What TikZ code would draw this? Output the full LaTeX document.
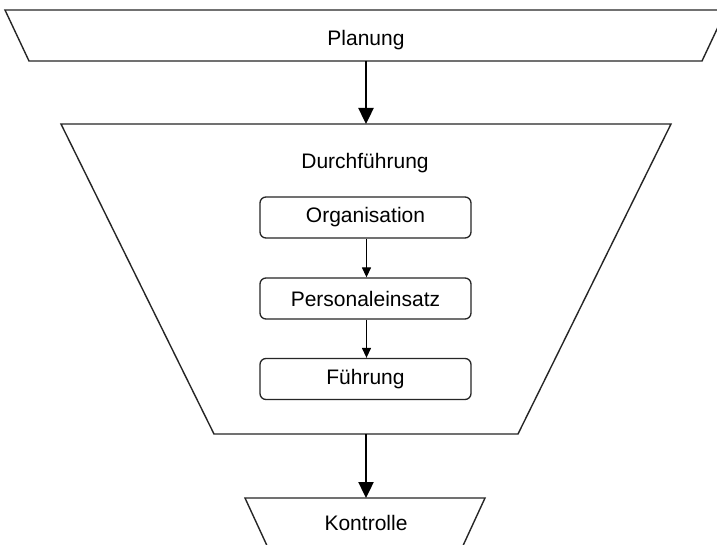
\documentclass[tikz,border=0pt]{standalone}
\usepackage{fontspec}
\setmainfont{Liberation Sans}
\usetikzlibrary{arrows.meta}
\begin{document}
\begin{tikzpicture}[x=1pt,y=-1pt,
  shapeline/.style={line width=1.4pt,draw=black!85},
  label/.style={font=\fontsize{21}{25}\selectfont,inner sep=0pt},
  stepbox/.style={draw=black!85,line width=1.3pt,rounded corners=6pt,minimum width=211pt,minimum height=41pt,font=\fontsize{21}{25}\selectfont,inner sep=0pt},
  bigarrow/.style={line width=2.4pt,-{Triangle[length=16pt,width=15pt]}},
  smallarrow/.style={line width=1.3pt,-{Triangle[length=10pt,width=9pt]}}]
\useasboundingbox (0,0) rectangle (717,545);
\fill[white] (0,0) rectangle (717,545);
\begin{scope}
\clip (0,0) rectangle (717,545);
% Planung trapezoid
\draw[shapeline] (5,10) -- (726,10) -- (702,61) -- (29,61) -- cycle;
% Durchfuehrung trapezoid
\draw[shapeline] (61,124) -- (671,124) -- (518,434) -- (214,434) -- cycle;
% Kontrolle trapezoid
\draw[shapeline] (245,498) -- (485,498) -- (461,550) -- (269,550) -- cycle;
\end{scope}
\coordinate (pb) at (366,61);
\coordinate (dt) at (366,124);
\coordinate (db) at (366,434);
\coordinate (kt) at (366,498);
\node[label] (planung) at (366,40) {Planung};
\node[label] (durch) at (365,163) {Durchführung};
\node[label] (kontrolle) at (366,523) {Kontrolle};
\node[stepbox] (org) at (365.5,217.5) {Organisation};
\node[stepbox] (pers) at (365.5,298.5) {Personaleinsatz};
\node[stepbox] (fuehr) at (365.5,379) {Führung};
\draw[bigarrow] (pb) -- (dt);
\draw[bigarrow] (db) -- (kt);
\draw[smallarrow] (org.south) ++(1,0) -- ([xshift=1pt]pers.north);
\draw[smallarrow] (pers.south) ++(1,0) -- ([xshift=1pt]fuehr.north);
\end{tikzpicture}
\end{document}
